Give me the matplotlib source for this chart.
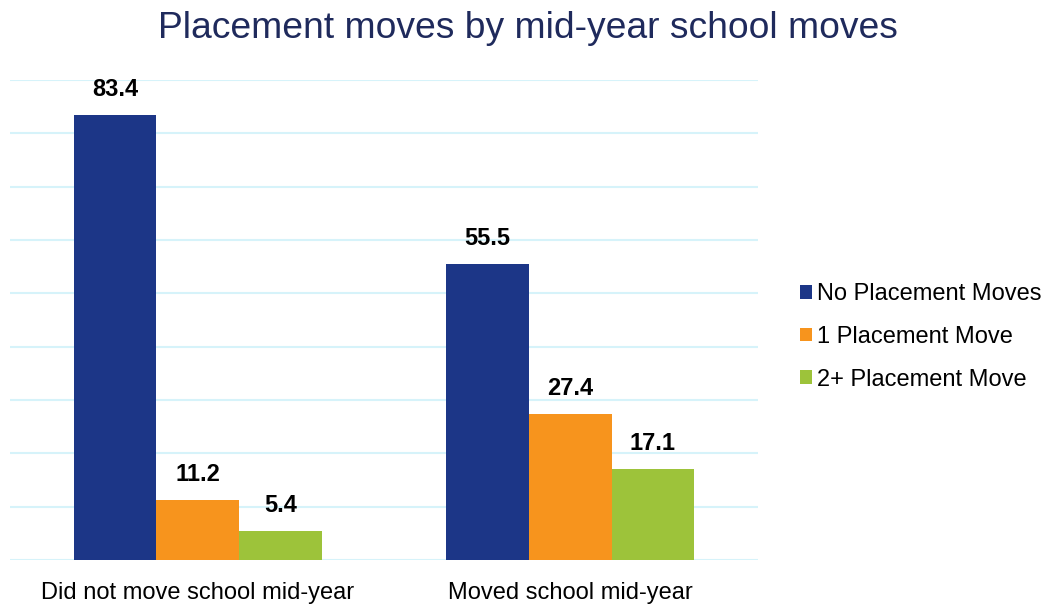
import numpy as np
import matplotlib.pyplot as plt

plt.rcParams['font.family'] = ['Liberation Sans', 'DejaVu Sans']

# Data
groups = ['Did not move school mid-year', 'Moved school mid-year']
series = ['No Placement Moves', '1 Placement Move', '2+ Placement Move']
no_moves = [83.4, 55.5]
one_move = [11.2, 27.4]
two_plus = [5.4, 17.1]
colors = ['#1C3687', '#F7941D', '#9DC33A']

fig = plt.figure(figsize=(10.48, 6.05), dpi=100)
ax = fig.add_axes([10 / 1048, 1 - 560 / 605, 748 / 1048, 480 / 605])

x = np.arange(len(groups))
w = 0.222
for i, (vals, name) in enumerate(zip([no_moves, one_move, two_plus], series)):
    bars = ax.bar(x + (i - 1) * w, vals, w, color=colors[i], label=name, zorder=3)
    for b, v in zip(bars, vals):
        ax.annotate(f'{v:.1f}', (b.get_x() + b.get_width() / 2, v),
                    xytext=(0, 10), textcoords='offset points',
                    ha='center', va='bottom', fontsize=17, fontweight='bold')

ax.set_xlim(-0.504, 1.504)
ax.set_ylim(0, 90)
ax.set_yticks(np.arange(0, 91, 10))
ax.yaxis.grid(True, color='#D6F3FA', lw=1.5, zorder=0)
ax.tick_params(axis='y', left=False, labelleft=False)
ax.tick_params(axis='x', bottom=False, labelsize=17, pad=12)
ax.set_xticks(x)
ax.set_xticklabels(groups)
for s in ax.spines.values():
    s.set_visible(False)

fig.suptitle('Placement moves by mid-year school moves', x=528 / 1048, y=1 - 29 / 605,
             va='center', fontsize=26.8, color='#1F2A5C')

fig.legend(loc='center left', bbox_to_anchor=(779 / 1048, 1 - 337 / 605),
           frameon=False, fontsize=17, handlelength=0.5, handleheight=0.5,
           handletextpad=0.22, labelspacing=0.87)

fig.savefig('out.png', dpi=100)
